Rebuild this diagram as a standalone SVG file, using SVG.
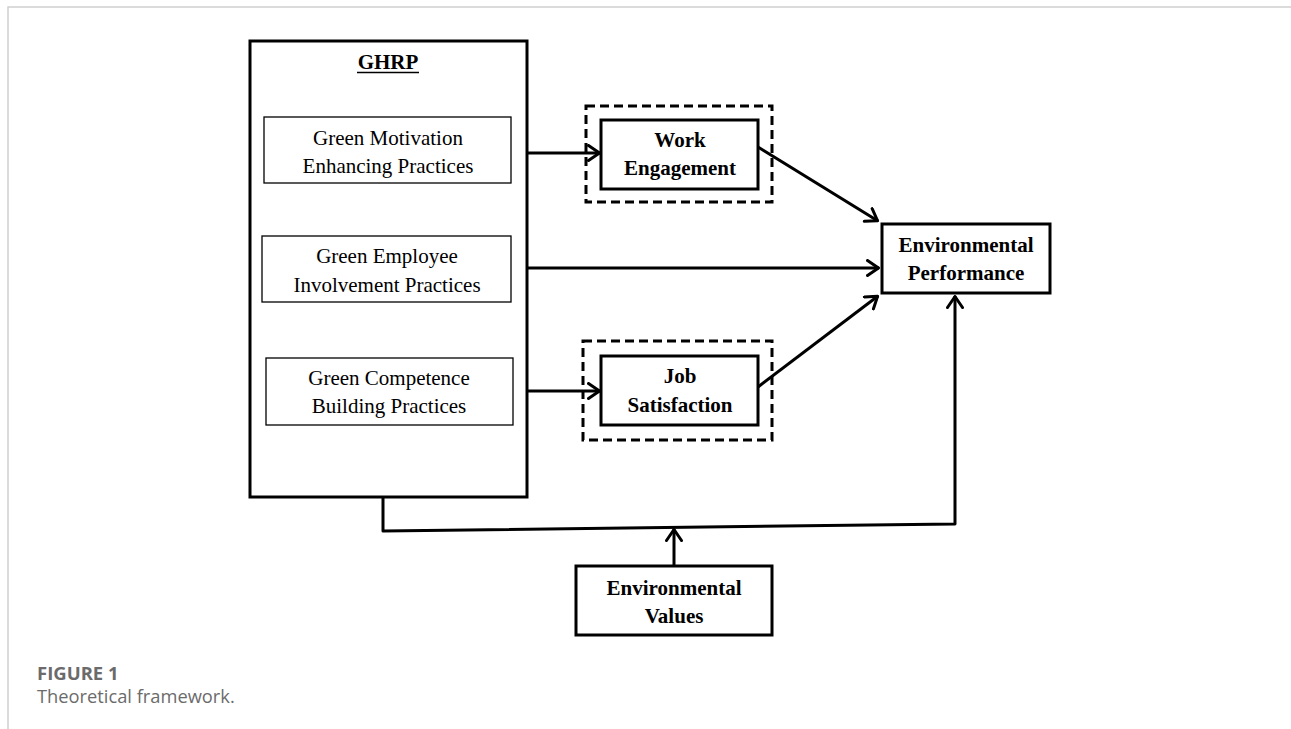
<svg xmlns="http://www.w3.org/2000/svg" width="1291" height="729" viewBox="0 0 1291 729">
<style>
  .frame{fill:none;stroke:#cfcfcf;stroke-width:1.5}
  .thick{fill:#fff;stroke:#000;stroke-width:3}
  .thin{fill:#fff;stroke:#000;stroke-width:1.3}
  .dash{fill:none;stroke:#000;stroke-width:3;stroke-dasharray:9 5}
  .conn{fill:none;stroke:#000;stroke-width:3;stroke-linejoin:round}
  .reg{font-family:"Liberation Serif","Times New Roman",serif;font-size:21px;fill:#000;text-anchor:middle}
  .bold{font-family:"Liberation Serif","Times New Roman",serif;font-size:21px;font-weight:bold;fill:#000;text-anchor:middle}
  .cap1{font-family:"Open Sans","Noto Sans",sans-serif;font-size:18.5px;font-weight:bold;fill:#6b6b6b}
  .cap2{font-family:"Open Sans","Noto Sans",sans-serif;font-size:18.3px;fill:#6b6b6b}
</style>
<defs>
  <marker id="arr" viewBox="0 0 14 18" refX="13" refY="9" markerWidth="14" markerHeight="18" markerUnits="userSpaceOnUse" orient="auto">
    <path d="M1.5,1.5 L12.5,9 L1.5,16.5" fill="none" stroke="#000" stroke-width="3" stroke-linecap="round" stroke-linejoin="round"/>
  </marker>
</defs>
<rect width="1291" height="729" fill="#fff"/>
<path class="frame" d="M8,729 L8,7 L1291,7"/>

<g id="connectors">
  <path class="conn" d="M528,153 L600,153" marker-end="url(#arr)"/>
  <path class="conn" d="M528,268 L879,268" marker-end="url(#arr)"/>
  <path class="conn" d="M528,391 L600,391" marker-end="url(#arr)"/>
  <path class="conn" d="M758,147 L878,221" marker-end="url(#arr)"/>
  <path class="conn" d="M758,387 L878,296" marker-end="url(#arr)"/>
  <path class="conn" d="M383,497 L383,531 L955,524 L955,296" marker-end="url(#arr)"/>
  <path class="conn" d="M674,566 L674,529" marker-end="url(#arr)"/>
</g>

<g id="ghrp">
  <rect class="thick" x="250" y="41" width="277" height="456"/>
  <text class="bold" x="388" y="69">GHRP</text>
  <line x1="357" y1="72.5" x2="419" y2="72.5" stroke="#000" stroke-width="1.5"/>
</g>
<g id="motivation">
  <rect class="thin" x="264" y="117" width="247" height="66"/>
  <text class="reg" x="388" y="145">Green Motivation</text>
  <text class="reg" x="388" y="173">Enhancing Practices</text>
</g>
<g id="involvement">
  <rect class="thin" x="262" y="236" width="249" height="66"/>
  <text class="reg" x="387" y="263">Green Employee</text>
  <text class="reg" x="387" y="292">Involvement Practices</text>
</g>
<g id="competence">
  <rect class="thin" x="266" y="358" width="247" height="67"/>
  <text class="reg" x="389" y="385">Green Competence</text>
  <text class="reg" x="389" y="413">Building Practices</text>
</g>
<g id="work-engagement">
  <rect class="dash" x="586" y="106" width="186" height="96"/>
  <rect class="thick" x="601" y="120" width="157" height="69"/>
  <text class="bold" x="680" y="147">Work</text>
  <text class="bold" x="680" y="175">Engagement</text>
</g>
<g id="job-satisfaction">
  <rect class="dash" x="583" y="341" width="189" height="99"/>
  <rect class="thick" x="601" y="356" width="157" height="69"/>
  <text class="bold" x="680" y="383">Job</text>
  <text class="bold" x="680" y="412">Satisfaction</text>
</g>
<g id="environmental-performance">
  <rect class="thick" x="882" y="224" width="168" height="69"/>
  <text class="bold" x="966" y="252">Environmental</text>
  <text class="bold" x="966" y="280">Performance</text>
</g>
<g id="environmental-values">
  <rect class="thick" x="576" y="566" width="196" height="69"/>
  <text class="bold" x="674" y="595">Environmental</text>
  <text class="bold" x="674" y="623">Values</text>
</g>

<g id="caption">
  <text class="cap1" x="37" y="680">FIGURE 1</text>
  <text class="cap2" x="37" y="703">Theoretical framework.</text>
</g>
</svg>
